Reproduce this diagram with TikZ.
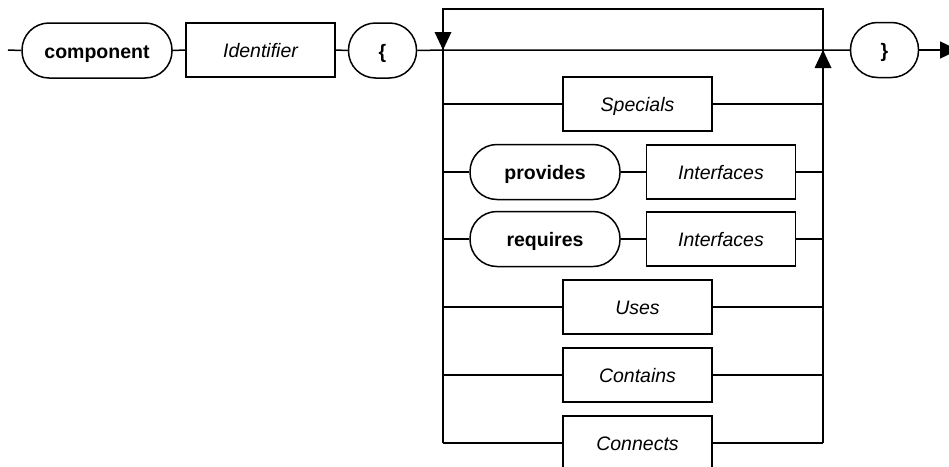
\documentclass[tikz,border=0pt]{standalone}
\usepackage{fontspec}
\setmainfont{Liberation Sans}
\usetikzlibrary{arrows.meta}
\begin{document}
\begin{tikzpicture}[x=1pt,y=-1pt,line width=1.5pt,
  every node/.style={inner sep=0pt,text height=17pt,text depth=2pt,
    font=\fontsize{19.5}{22}\selectfont},
  term/.style={draw,rounded corners=27pt,minimum width=150pt,minimum height=55pt,
    font=\fontsize{19.5}{22}\selectfont\bfseries},
  brace/.style={term,minimum width=68pt},
  nonterm/.style={draw,minimum width=149pt,minimum height=54pt,
    font=\fontsize{19.5}{22}\selectfont\itshape},
  wire/.style={draw}]
\clip (0,0) rectangle (949,466);

% main track
\coordinate (start) at (8,50);
\node[term]    (comp)  at (97,50.5)  {component};
\node[nonterm] (ident) at (260.5,50) {Identifier};
\node[brace]   (lb)    at (382.5,50.5) {\{};
\coordinate (L) at (443,50);
\coordinate (R) at (823,50);
\node[brace]   (rb)    at (884.5,50) {\}};
\coordinate (stop) at (958,50);

\draw[wire] (start) -- (comp.west);
\draw[wire] (comp.east) -- (ident.west);
\draw[wire] (ident.east) -- (lb.west);
\draw[wire] (lb.east) -- (L) -- (R) -- (rb.west);
\draw[wire,-{Triangle[length=18pt,width=17pt]}] (rb.east) -- (stop);

% repetition loop
\coordinate (Ltop) at (443,9);
\coordinate (Rtop) at (823,9);
\coordinate (Lbot) at (443,443);
\coordinate (Rbot) at (823,443);
\draw[wire] (L) -- (Ltop) -- (Rtop) -- (R);
\draw[wire] (L) -- (Lbot);
\draw[wire] (R) -- (Rbot);
\fill (L) ++(-8.5,-18) -- ++(17,0) -- (L) -- cycle;
\fill (R) ++(-8.5,18) -- ++(17,0) -- (R) -- cycle;

% alternatives
\coordinate (a1) at (443,104); \coordinate (b1) at (823,104);
\coordinate (a2) at (443,172); \coordinate (b2) at (823,172);
\coordinate (a3) at (443,239); \coordinate (b3) at (823,239);
\coordinate (a4) at (443,307); \coordinate (b4) at (823,307);
\coordinate (a5) at (443,375); \coordinate (b5) at (823,375);
\coordinate (a6) at (443,443); \coordinate (b6) at (823,443);

\node[nonterm] (spec) at (637.5,104) {Specials};
\node[term]    (prov) at (545,172)   {provides};
\node[nonterm] (ifp)  at (721,172)   {Interfaces};
\node[term]    (req)  at (545,239)   {requires};
\node[nonterm] (ifr)  at (721,239)   {Interfaces};
\node[nonterm] (uses) at (637.5,307) {Uses};
\node[nonterm] (cont) at (637.5,375) {Contains};
\node[nonterm] (conn) at (637.5,443) {Connects};

\draw[wire] (a1) -- (spec.west);  \draw[wire] (spec.east) -- (b1);
\draw[wire] (a2) -- (prov.west);  \draw[wire] (prov.east) -- (ifp.west);
\draw[wire] (ifp.east) -- (b2);
\draw[wire] (a3) -- (req.west);   \draw[wire] (req.east) -- (ifr.west);
\draw[wire] (ifr.east) -- (b3);
\draw[wire] (a4) -- (uses.west);  \draw[wire] (uses.east) -- (b4);
\draw[wire] (a5) -- (cont.west);  \draw[wire] (cont.east) -- (b5);
\draw[wire] (a6) -- (conn.west);  \draw[wire] (conn.east) -- (b6);
\end{tikzpicture}
\end{document}
